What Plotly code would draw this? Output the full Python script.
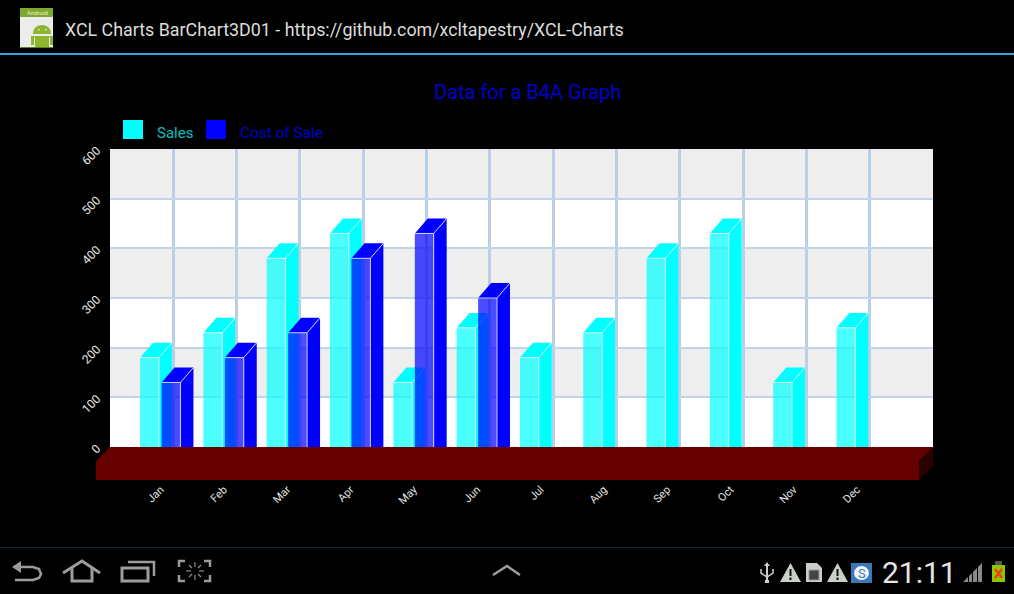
import plotly.graph_objects as go

# Данные графика
months = ["Jan", "Feb", "Mar", "Apr", "May", "Jun", "Jul", "Aug", "Sep", "Oct", "Nov", "Dec"]
sales = [180, 230, 380, 430, 130, 240, 180, 230, 380, 430, 130, 240]
cost_of_sale = [130, 180, 230, 380, 430, 300]
y_ticks = [0, 100, 200, 300, 400, 500, 600]

W, H = 1014, 594
FONT = "Roboto"
positions = list(range(1, len(months) + 1))
BAR_W = 0.298
DEPTH_X, DEPTH_Y = 0.205, 30


# Перевод пикселей экрана в координаты paper
def to_paper(pts):
    return [(x / W, 1 - y / H) for x, y in pts]


def poly(pts, fill, line_color=None, width=0, close=True):
    p = to_paper(pts)
    path = "M" + " L".join(f"{x:.5f},{y:.5f}" for x, y in p) + (" Z" if close else "")
    return dict(type="path", xref="paper", yref="paper", path=path, fillcolor=fill,
                line=dict(color=line_color or "rgba(0,0,0,0)", width=width), layer="above")


def stroke(pts, color, width=2.5):
    return poly(pts, "rgba(0,0,0,0)", color, width, close=False)


def rect(x0, y0, x1, y1, fill, line_color=None, width=0):
    return poly([(x0, y0), (x1, y0), (x1, y1), (x0, y1)], fill, line_color, width)


def circle(x0, y0, x1, y1, fill):
    return dict(type="circle", xref="paper", yref="paper", x0=x0 / W, x1=x1 / W,
                y0=1 - y1 / H, y1=1 - y0 / H, fillcolor=fill, line_width=0, layer="above")


def text(x, y, s, color, size, anchor="left", angle=0):
    return dict(x=x / W, y=1 - y / H, xref="paper", yref="paper", text=s, showarrow=False,
                xanchor=anchor, yanchor="middle", textangle=angle,
                font=dict(family=FONT, size=size, color=color))


# Передняя грань, боковая и верхняя грани столбцов одной серии
def add_series(fig, xs, values, offset, name, solid, front, xaxis, yaxis):
    xs = xs[:len(values)]
    fig.add_trace(go.Bar(x=xs, y=values, width=BAR_W, offset=offset, name=name,
                         marker=dict(color=front, line=dict(width=0)),
                         xaxis=xaxis, yaxis=yaxis, showlegend=False))
    sx, sy, tx, ty, ex, ey = [], [], [], [], [], []
    for x, v in zip(xs, values):
        l, r = x + offset, x + offset + BAR_W
        sx += [r, r + DEPTH_X, r + DEPTH_X, r, r, None]
        sy += [0, 0, v + DEPTH_Y, v, 0, None]
        tx += [l, r, r + DEPTH_X, l + DEPTH_X, l, None]
        ty += [v, v, v + DEPTH_Y, v + DEPTH_Y, v, None]
        ex += [l, r, r, None, r, r + DEPTH_X, None]
        ey += [v, v, 0, None, v, v + DEPTH_Y, None]
    for px_, py_ in ((sx, sy), (tx, ty)):
        fig.add_trace(go.Scatter(x=px_, y=py_, fill="toself", fillcolor=solid, mode="none",
                                 xaxis=xaxis, yaxis=yaxis, showlegend=False, hoverinfo="skip"))
    fig.add_trace(go.Scatter(x=ex, y=ey, mode="lines", line=dict(color="rgba(255,255,255,0.75)", width=1),
                             xaxis=xaxis, yaxis=yaxis, showlegend=False, hoverinfo="skip"))


fig = go.Figure()
add_series(fig, positions, sales, -0.525, "Sales", "#00ffff", "rgba(0,255,255,0.7)", "x", "y")
add_series(fig, positions, cost_of_sale, -0.185, "Cost of Sale", "#0000ff", "rgba(0,0,255,0.7)", "x2", "y2")

# Полосы фона
shapes = []
for lo in y_ticks[1::2]:
    shapes.append(dict(type="rect", xref="x domain", yref="y", x0=0, x1=1, y0=lo, y1=lo + 100,
                       fillcolor="#eeeeee", line_width=0, layer="below"))

# Основание
shapes.append(poly([(110, 447), (933, 447), (919, 461), (919, 480), (96, 480), (96, 461)], "#660000"))
shapes.append(poly([(933, 447), (933, 466), (919, 480), (919, 461)], "#2a0000"))

# Легенда
shapes.append(rect(123, 120, 143, 139, "#00ffff"))
shapes.append(rect(206, 120, 226, 139, "#0000ff"))

# Верхняя и нижняя панели
shapes.append(rect(0, 53, W, 55, "#2ea6d6"))
shapes.append(rect(0, 547, W, 548, "#12303c"))

# Значок приложения
shapes.append(rect(20, 8, 53, 47, "#ececec"))
shapes.append(rect(20, 8, 53, 17, "#7fa82e"))
shapes.append(circle(33, 25, 51, 41, "#8fb52f"))
shapes.append(rect(31, 34, 53, 36, "#ececec"))
shapes.append(rect(35, 36, 49, 47, "#8fb52f"))
shapes.append(rect(31, 36, 34, 45, "#8fb52f"))
shapes.append(rect(50, 36, 53, 45, "#8fb52f"))
shapes.append(rect(38, 29, 39.5, 30.5, "#ececec"))
shapes.append(rect(45, 29, 46.5, 30.5, "#ececec"))
shapes.append(rect(20, 47, 53, 48, "#5f7f20"))

# Кнопки навигации
NAV = "#9c9c9c"
shapes.append(poly([(12, 567), (21, 561), (21, 573)], NAV))
shapes.append(stroke([(20, 567), (33, 567), (39, 569), (41, 574), (39, 578), (33, 580), (15, 580)], NAV))
shapes.append(stroke([(63, 573), (82, 561), (100, 573)], NAV, 3))
shapes.append(stroke([(72, 568), (72, 581), (92, 581), (92, 568)], NAV, 3))
shapes.append(rect(122, 568, 148, 581, "rgba(0,0,0,0)", NAV, 3))
shapes.append(stroke([(128, 562), (154, 562), (154, 576)], NAV, 2.5))
for cx, cy, dx, dy in ((179, 561, 1, 1), (210, 561, -1, 1), (179, 581, 1, -1), (210, 581, -1, -1)):
    shapes.append(stroke([(cx + 6 * dx, cy), (cx, cy), (cx, cy + 6 * dy)], NAV, 2.5))
for a, b in (((195, 562), (195, 567)), ((195, 575), (195, 580)), ((186, 571), (191, 571)), ((199, 571), (204, 571)),
             ((189, 565), (192, 568)), ((201, 565), (198, 568)), ((189, 577), (192, 574)), ((201, 577), (198, 574))):
    shapes.append(stroke([a, b], "#8a8a8a", 1.2))
shapes.append(stroke([(493, 575), (507, 566), (520, 575)], NAV))

# Значки состояния
ICON = "#c9d0c9"
shapes.append(stroke([(767, 565), (767, 581)], ICON, 2))
shapes.append(stroke([(761, 569), (761, 573), (767, 577), (773, 573), (773, 569)], ICON, 1.5))
shapes.append(poly([(767, 562), (770, 566), (764, 566)], ICON))
shapes.append(rect(765, 580, 769, 583, ICON))
for x0 in (780, 827):
    shapes.append(poly([(x0, 582), (x0 + 10.5, 563), (x0 + 21, 582)], ICON))
    shapes.append(rect(x0 + 9.5, 569, x0 + 11.5, 576, "#111111"))
    shapes.append(rect(x0 + 9.5, 577.5, x0 + 11.5, 580, "#111111"))
shapes.append(poly([(806, 563), (817, 563), (822, 568), (822, 582), (806, 582)], ICON))
shapes.append(rect(809, 570, 819, 580, "#444444", "#999999", 1))
shapes.append(rect(851, 563, 872, 583, "#3a78b8"))
shapes.append(circle(854, 566, 869, 580, "#f0f4f8"))
shapes.append(poly([(963, 582), (982, 563), (982, 582)], "#8a8a8a"))
for x0 in (968, 972, 977):
    shapes.append(rect(x0, 562, x0 + 1, 583, "#000000"))
shapes.append(rect(995, 561, 1002, 565, "#555555"))
shapes.append(rect(992, 565, 1005, 582, "#8cc800"))
shapes.append(stroke([(995, 569), (1002, 578)], "#f04010", 2.5))
shapes.append(stroke([(1002, 569), (995, 578)], "#f04010", 2.5))

annotations = [
    text(63, 29, "XCL Charts BarChart3D01 - https://github.com/xcltapestry/XCL-Charts", "#dcdcdc", 17.85),
    text(527, 92, "Data for a B4A Graph", "#0000cc", 20, "center"),
    text(155, 133, "Sales", "#00c0c0", 15),
    text(238, 133, "Cost of Sale", "#0000cc", 15.4),
    text(880, 572, "21:11", "#e4e4e4", 30),
    text(37, 13, "Android", "#e8f0d0", 6, "center"),
    text(861.5, 573, "S", "#3a78b8", 13, "center"),
]

GRID = "#c2d4e8"
axis_range_x = [0, 13]
axis_range_y = [0, 600]
dom_x = [110 / W, 933 / W]
dom_y = [1 - 447 / H, 1 - 149 / H]

fig.update_layout(
    width=W, height=H, margin=dict(l=0, r=0, t=0, b=0), autosize=False,
    paper_bgcolor="#000000", plot_bgcolor="#ffffff", barmode="overlay",
    shapes=shapes, annotations=annotations,
    font=dict(family=FONT),
    xaxis=dict(domain=dom_x, range=axis_range_x, zeroline=False, showgrid=False, showline=False, automargin=False,
               tickmode="array", tickvals=[p - 0.2 for p in positions], ticktext=months,
               tickangle=-45, tickfont=dict(size=11, color="#e4e4e4"), ticks="", ticklabelstandoff=33,
               minor=dict(tickmode="array", tickvals=positions, showgrid=True, gridcolor="#b8cfe6",
                          gridwidth=3, ticks="")),
    yaxis=dict(domain=dom_y, range=axis_range_y, zeroline=False, showline=False, gridcolor=GRID, gridwidth=2,
               automargin=False, tickmode="array", tickvals=y_ticks, tickangle=-45,
               tickfont=dict(size=12, color="#e8e8e8"), ticks="", ticklabelstandoff=12),
    xaxis2=dict(domain=dom_x, range=axis_range_x, overlaying="x", visible=False),
    yaxis2=dict(domain=dom_y, range=axis_range_y, overlaying="y", visible=False),
)

fig.write_html("out.html", config=dict(displayModeBar=False),
               post_script="document.body.style.margin='0';document.body.style.overflow='hidden';")
